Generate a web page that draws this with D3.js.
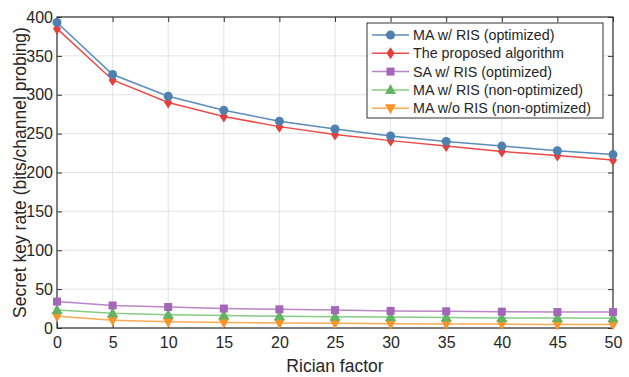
<!DOCTYPE html>
<html><head><meta charset="utf-8">
<script src="https://cdn.jsdelivr.net/npm/d3@7"></script>
<style>body{margin:0;background:#fff}svg{display:block}text{font-family:"Liberation Sans",Arial,sans-serif;fill:#262626}</style>
</head><body><svg id="c" width="629" height="377"></svg>
<script>
const xValues=[0,5,10,15,20,25,30,35,40,45,50];
const maRisOpt=[393,326,298,280,266,256,247,240,234,228,223];
const proposed=[385,319,290,272,259,249,241,234,227,222,216];
const saRisOpt=[34,29,27,25,24,23,22,21.5,21,20.5,20.5];
const maRisNon=[23,19,17,16,15,14.5,14,13.5,13,13,12.5];
const maNoRisNon=[15,10,8,7,6.5,6,5.5,5,5,4.5,4.5];
const xTicks=[0,5,10,15,20,25,30,35,40,45,50];
const yTicks=[0,50,100,150,200,250,300,350,400];
const seriesNames=["MA w/ RIS (optimized)","The proposed algorithm","SA w/ RIS (optimized)","MA w/ RIS (non-optimized)","MA w/o RIS (non-optimized)"];

const series=[
 {name:seriesNames[0],vals:maRisOpt,line:"#5a8cbb",mark:"#4f80b0",sym:"circle"},
 {name:seriesNames[1],vals:proposed,line:"#ee4a4a",mark:"#e63e3e",sym:"diamond"},
 {name:seriesNames[2],vals:saRisOpt,line:"#bb85c8",mark:"#a466b6",sym:"square"},
 {name:seriesNames[3],vals:maRisNon,line:"#86cc86",mark:"#62b462",sym:"tri"},
 {name:seriesNames[4],vals:maNoRisNon,line:"#fbaa55",mark:"#f7942a",sym:"dtri"}
];
const svg=d3.select("#c");
const L=57,R=613,T=17,B=328;
const x=d3.scaleLinear().domain([0,50]).range([L,R]);
const y=d3.scaleLinear().domain([0,400]).range([B,T]);

const g=svg.append("g");
g.selectAll(".gx").data(xTicks).enter().append("line").attr("x1",d=>x(d)).attr("x2",d=>x(d)).attr("y1",T).attr("y2",B).attr("stroke","#e3e3e3").attr("stroke-width",1);
g.selectAll(".gy").data(yTicks).enter().append("line").attr("y1",d=>y(d)).attr("y2",d=>y(d)).attr("x1",L).attr("x2",R).attr("stroke","#e3e3e3").attr("stroke-width",1);

const ax=svg.append("g").attr("transform",`translate(0,${B})`).call(d3.axisBottom(x).tickValues(xTicks).tickSizeInner(-5).tickSizeOuter(0).tickPadding(9));
const ay=svg.append("g").attr("transform",`translate(${L},0)`).call(d3.axisLeft(y).tickValues(yTicks).tickSizeInner(-5).tickSizeOuter(0).tickPadding(4));
const axt=svg.append("g").attr("transform",`translate(0,${T})`).call(d3.axisTop(x).tickValues(xTicks).tickSizeInner(-5).tickSizeOuter(0).tickFormat(""));
const ayr=svg.append("g").attr("transform",`translate(${R},0)`).call(d3.axisRight(y).tickValues(yTicks).tickSizeInner(-5).tickSizeOuter(0).tickFormat(""));
[ax,ay,axt,ayr].forEach(a=>{a.select(".domain").remove();a.selectAll("line").attr("stroke","#333");a.selectAll("text").attr("font-size",16).attr("fill","#262626").attr("font-family","Liberation Sans, Arial, sans-serif");});
svg.append("rect").attr("x",L).attr("y",T).attr("width",R-L).attr("height",B-T).attr("fill","none").attr("stroke","#333").attr("stroke-width",1.2);

function sym(sel,s,cx,cy,color){
 if(s==="circle")sel.append("circle").attr("cx",cx).attr("cy",cy).attr("r",4.5).attr("fill",color);
 else if(s==="diamond")sel.append("path").attr("d",`M${cx},${cy-6}L${cx+4},${cy}L${cx},${cy+6}L${cx-4},${cy}Z`).attr("fill",color);
 else if(s==="square")sel.append("rect").attr("x",cx-4).attr("y",cy-4).attr("width",8).attr("height",8).attr("fill",color);
 else if(s==="tri")sel.append("path").attr("d",`M${cx},${cy-6}L${cx+5.5},${cy+4}L${cx-5.5},${cy+4}Z`).attr("fill",color);
 else sel.append("path").attr("d",`M${cx},${cy+6}L${cx+5.5},${cy-4}L${cx-5.5},${cy-4}Z`).attr("fill",color);
}
const line=d3.line().x((d,i)=>x(xValues[i])).y(d=>y(d));
const plot=svg.append("g");
series.slice().reverse().forEach(s=>{
 plot.append("path").datum(s.vals).attr("d",line).attr("fill","none").attr("stroke",s.line).attr("stroke-width",1.5);
 s.vals.forEach((v,i)=>sym(plot,s.sym,x(xValues[i]),y(v),s.mark));
});

const lg=svg.append("g");
lg.append("rect").attr("x",367).attr("y",23).attr("width",236).attr("height",95).attr("fill","#fff").attr("stroke","#333").attr("stroke-width",1);
series.forEach((s,i)=>{
 const yy=35+i*18.3;
 lg.append("line").attr("x1",372).attr("x2",409).attr("y1",yy).attr("y2",yy).attr("stroke",s.line).attr("stroke-width",1.5);
 sym(lg,s.sym,390.5,yy,s.mark);
 lg.append("text").attr("x",413).attr("y",yy+5).attr("font-size",14.3).attr("textLength",null).text(s.name);
});

svg.append("text").attr("x",(L+R)/2).attr("y",372).attr("text-anchor","middle").attr("font-size",17.5).text("Rician factor");
svg.append("text").attr("transform",`translate(26,${(T+B)/2}) rotate(-90)`).attr("text-anchor","middle").attr("font-size",17.5).text("Secret key rate (bits/channel probing)");
</script></body></html>
